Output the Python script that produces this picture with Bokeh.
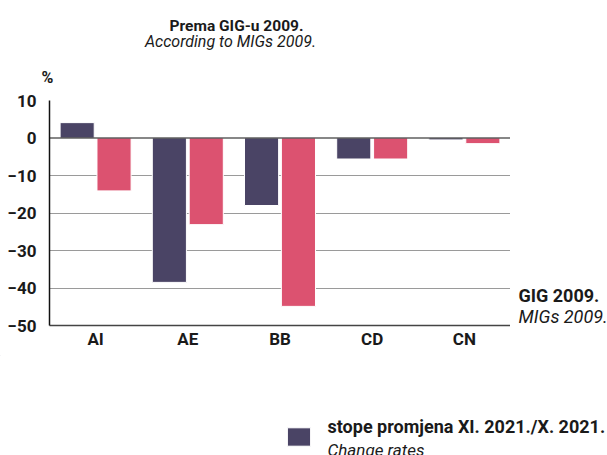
from bokeh.plotting import figure
from bokeh.layouts import column, row
from bokeh.models import (ColumnDataSource, FactorRange, Label, Legend, LegendItem, Span,
                          FixedTicker, Range1d)
from bokeh.transform import dodge
from bokeh.embed import file_html
from bokeh.resources import INLINE

categories = ["AI", "AE", "BB", "CD", "CN"]
change_rates = [4.1, -38.5, -18.0, -5.6, -0.5]
second_series = [-14.1, -23.1, -44.9, -5.6, -1.5]
y_ticks = [10, 0, -10, -20, -30, -40, -50]

title_hr = "Prema GIG-u 2009."
title_en = "According to MIGs 2009."
unit_label = "%"
axis_hr = "GIG 2009."
axis_en = "MIGs 2009."
legend_hr = "stope promjena XI. 2021./X. 2021."
legend_en = "Change rates"

DARK = "#4a4465"
PINK = "#dc5270"
FONT = "Roboto"
TXT = "#1a1a1a"


def blank(width, height, x0, x1, y_bottom, y_top):
    """A figure with no axes whose frame fills it; coordinates are page pixels."""
    f = figure(width=width, height=height, output_backend="svg", toolbar_location=None,
               x_range=Range1d(x0, x1), y_range=Range1d(y_bottom, y_top),
               x_axis_location=None, y_axis_location=None, min_border=0,
               title_location=None)
    f.outline_line_color = None
    f.grid.visible = False
    return f


def lab(f, text, x, y, size="16px", style="normal", align="left"):
    f.add_layout(Label(x=x, y=y, text=text, text_font=FONT, text_font_size=size,
                       text_font_style=style, text_color=TXT, text_align=align,
                       text_baseline="alphabetic"))


# ---- title strip -------------------------------------------------------
top = blank(607, 94, 0, 607, 94, 0)
lab(top, title_hr, 236, 25, "15.5px", "bold", "center")
lab(top, title_en, 230, 41, "16px", "italic", "center")
lab(top, unit_label, 41, 77, "16px", "bold")

# ---- main chart --------------------------------------------------------
src = ColumnDataSource(dict(cat=categories, a=change_rates, b=second_series))
p = figure(x_range=FactorRange(*categories, range_padding=0), y_range=(-50, 10),
           width=510, height=261, output_backend="svg", toolbar_location=None,
           title_location=None,
           min_border_left=49, min_border_right=0, min_border_top=6, min_border_bottom=30)
p.outline_line_color = None

r1 = p.vbar(x=dodge("cat", -0.2, range=p.x_range), top="a", bottom=0, width=0.37,
            source=src, fill_color=DARK, line_color="white", line_width=1)
r2 = p.vbar(x=dodge("cat", 0.2, range=p.x_range), top="b", bottom=0, width=0.37,
            source=src, fill_color=PINK, line_color="white", line_width=1)

p.yaxis.ticker = FixedTicker(ticks=y_ticks)
p.ygrid.ticker = FixedTicker(ticks=[t for t in y_ticks if t not in (0, -50)])
p.ygrid.grid_line_color = "#9a9a9a"
p.xgrid.grid_line_color = None
p.add_layout(Span(location=0, dimension="width", line_color="#111111", line_width=1.2))

for ax in (p.xaxis[0], p.yaxis[0]):
    ax.major_tick_line_color = None
    ax.minor_tick_line_color = None
    ax.major_tick_out = 0
    ax.major_tick_in = 0
    ax.minor_tick_out = 0
    ax.major_label_text_font = FONT
    ax.major_label_text_font_size = "17px"
    ax.major_label_text_font_style = "bold"
    ax.major_label_text_color = TXT
p.yaxis.axis_line_color = "#111111"
p.yaxis.axis_line_width = 1.5
p.xaxis.axis_line_color = "#444444"
p.xaxis.axis_line_width = 1.5
p.yaxis.major_label_standoff = 13
p.xaxis.major_label_standoff = 3

# ---- right strip (x-axis caption) -------------------------------------
right = blank(97, 261, 510, 607, 355, 94)
lab(right, axis_hr, 518, 320, "18px", "bold")
lab(right, axis_en, 518, 345, "18px", "italic")

# ---- legend strip ------------------------------------------------------
bottom = blank(607, 100, 0, 607, 455, 355)
# legend key: first value of the first series, lying outside this strip's view
key_src = ColumnDataSource(dict(x=[0], top=[change_rates[0]]))
key = bottom.vbar(x="x", top="top", bottom=0, width=1, source=key_src,
                  fill_color=DARK, line_color="white", line_width=1)
legend = Legend(items=[LegendItem(label=" ", renderers=[key])],
                location=(284, 7), glyph_width=29, glyph_height=23,
                label_text_font=FONT, label_text_font_size="17px",
                label_height=23, border_line_color=None, background_fill_alpha=0,
                padding=0, label_standoff=0, margin=0, spacing=0)
bottom.add_layout(legend, "center")
lab(bottom, legend_hr, 327, 426, "18px", "bold")
lab(bottom, legend_en, 327, 449, "17px", "italic")

layout = column(top, row(p, right), bottom)
open("out.html", "w").write(file_html(layout, INLINE))
